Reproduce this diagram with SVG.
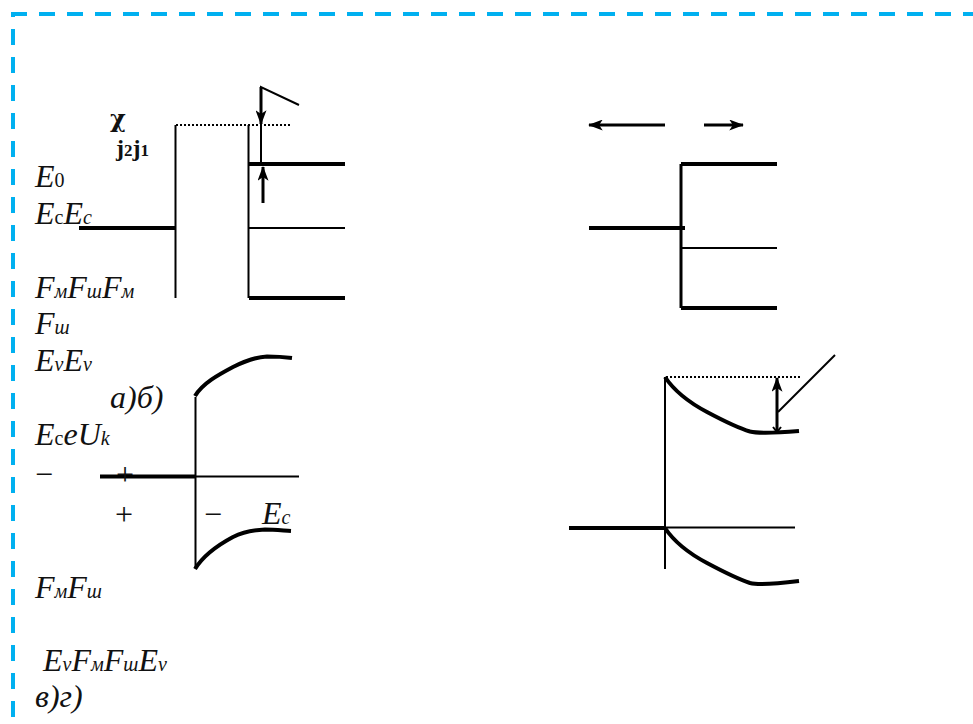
<svg xmlns="http://www.w3.org/2000/svg" width="973" height="724" viewBox="0 0 973 724">
<style>
.t{font-family:"Liberation Serif","Times New Roman",serif;font-size:32px;fill:#111;font-style:italic}
.s{font-size:20px;font-style:italic}
.r{font-size:20px;font-style:normal}
.n{font-style:normal}
.b{font-family:"Liberation Serif","Times New Roman",serif;font-weight:bold;fill:#111}
.l{fill:none;stroke:#000;stroke-width:2}
.m{fill:none;stroke:#000;stroke-width:3}
.h{fill:none;stroke:#000;stroke-width:4}
.d{fill:none;stroke:#000;stroke-width:2;stroke-dasharray:2 2}
.f{fill:none;stroke:#00b0f0;stroke-width:4;stroke-dasharray:16 12}
</style>
<defs>
<marker id="a" viewBox="0 0 16 12" refX="15" refY="6" markerWidth="15" markerHeight="11" markerUnits="userSpaceOnUse" orient="auto"><path d="M0 0L16 6L0 12L4 6Z" fill="#000"/></marker>
</defs>
<g id="border"><path class="f" d="M11 14H973"/><path class="f" d="M13 29V724"/><path d="M11 12h4v5h-4z" fill="#00b0f0"/></g>
<g id="connectors">
<path class="d" d="M176 125H290"/>
<path class="l" d="M175.500 125V298M248.500 125V298"/>
<path class="h" d="M79 228H175M249 164H345M249 298H345"/>
<path class="l" d="M249 228H345"/>
<path class="l" d="M299 105L261 87V124"/>
<path class="m" d="M261 87V124" marker-end="url(#a)"/>
<path class="l" d="M261 120V164"/>
<path class="m" d="M263 203V167" marker-end="url(#a)"/>
<path class="m" d="M665 125H589" marker-end="url(#a)"/>
<path class="m" d="M704 125H743" marker-end="url(#a)"/>
<path class="m" d="M681 164V308"/>
<path class="h" d="M681 164H777M681 308H777M589 228H685"/>
<path class="l" d="M681 248H777"/>
<path class="l" d="M195.500 397V568M100 476.500H299"/>
<path class="h" d="M100 476.500H196M195 396C203 383 218 375 233 367C245 361 255 357 267 356.500C276 356.500 284 357 292 358M195 569C203 556 218 545 233 537C243 532 253 530 265 529.500C274 529.500 283 530.500 291 531"/>
<path class="l" d="M665 377V569M665 527.500H795"/>
<path class="h" d="M569 528H665"/>
<path class="h" d="M665 377C675 392 690 403 707 412C722 420 738 428 750 431.500C758 433.500 775 433 799 431M665 528C675 543 690 554 707 563C722 571 738 579 750 583C758 585 775 584 799 581"/>
<path class="d" d="M666 377H800"/>
<path class="l" d="M778 412L835 355"/>
<path class="m" d="M777 431V378" marker-end="url(#a)"/>
<path class="l" d="M773 427L777 432L781 427"/>
</g>
<g id="labels">
<text font-family="'DejaVu Serif',serif" font-weight="bold" fill="#111" x="110" y="127" font-size="24">χ</text>
<text class="b" x="116" y="156" font-size="24">j<tspan font-size="17">2</tspan>j<tspan font-size="17">1</tspan></text>
<text class="t" x="35" y="187">E<tspan class="r">0</tspan></text>
<text class="t" x="35" y="224">E<tspan class="r">c</tspan>E<tspan class="s">c</tspan></text>
<text class="t" x="35" y="298">F<tspan class="s">м</tspan>F<tspan class="s">ш</tspan>F<tspan class="s">м</tspan></text>
<text class="t" x="35" y="334">F<tspan class="s">ш</tspan></text>
<text class="t" x="35" y="371">E<tspan class="s">v</tspan>E<tspan class="s">v</tspan></text>
<text class="t" x="110" y="408">а)б)</text>
<text class="t" x="35" y="445">E<tspan class="r">c</tspan>eU<tspan class="s">k</tspan></text>
<text class="t n" x="35" y="485">−</text>
<text class="t n" x="116" y="485">+</text>
<text class="t n" x="115" y="525">+</text>
<text class="t n" x="204" y="525">−</text>
<text class="t" x="262" y="524">E<tspan class="s">c</tspan></text>
<text class="t" x="35" y="598">F<tspan class="s">м</tspan>F<tspan class="s">ш</tspan></text>
<text class="t" x="43" y="671">E<tspan class="s">v</tspan>F<tspan class="s">м</tspan>F<tspan class="s">ш</tspan>E<tspan class="s">v</tspan></text>
<text class="t" x="35" y="707">в)г)</text>
</g>
</svg>
